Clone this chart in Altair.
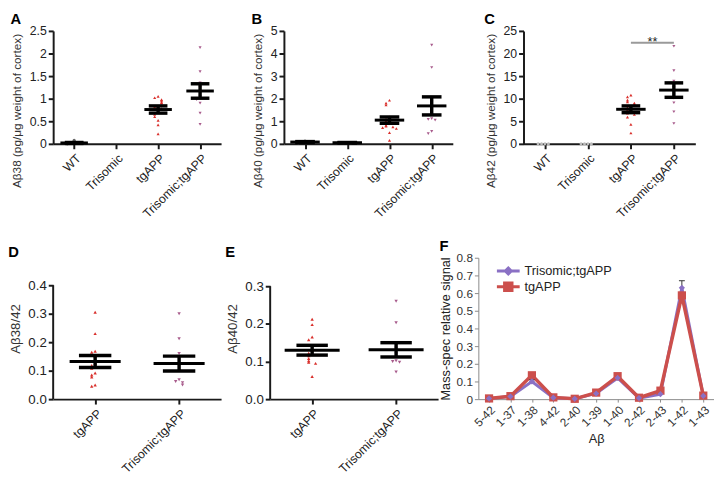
import altair as alt
import pandas as pd

FONT = "Liberation Sans"
RED = "#d9302c"
MAUVE = "#a85c8c"
GRAY = "#666666"
F_PURPLE = "#8a70c4"
F_RED = "#cc4f4c"

groups4 = ["WT", "Trisomic", "tgAPP", "Trisomic;tgAPP"]
groups2 = ["tgAPP", "Trisomic;tgAPP"]

# Panel A: Abeta38 (pg/ug)
a_wt = [0.08, 0.03, 0.02, 0.01, 0.0]
a_tri = []
a_tg = [1.05, 1.02, 0.98, 0.95, 0.92, 0.90, 0.85, 0.82, 0.78, 0.70, 0.65, 0.60, 0.52, 0.42, 0.22]
a_tritg = [2.13, 1.60, 1.35, 1.25, 1.05, 0.98, 0.90, 0.68, 0.43]
a_mean = [0.02, None, 0.76, 1.17]
a_sem = [0.01, None, 0.08, 0.16]
a_ticks = [0, 0.5, 1, 1.5, 2, 2.5]

# Panel B: Abeta40
b_wt = [0.12, 0.08, 0.06, 0.05]
b_tri = [0.06, 0.05, 0.04]
b_tg = [1.93, 1.80, 1.72, 1.20, 1.10, 1.02, 0.95, 0.82, 0.78, 0.75, 0.72, 0.68, 0.50, 0.15]
b_tritg = [4.37, 3.38, 1.85, 1.12, 1.08, 1.05, 0.55, 0.45]
b_mean = [0.08, 0.05, 1.05, 1.68]
b_sem = [0.02, 0.01, 0.14, 0.40]
b_ticks = [0, 1, 2, 3, 4, 5]

# Panel C: Abeta42
c_wt = [0.0, 0.0, 0.0, 0.0]
c_tri = [0.0, 0.0, 0.0, 0.0]
c_tg = [10.8, 10.4, 9.7, 9.3, 9.0, 8.8, 8.5, 8.0, 7.6, 7.2, 6.8, 6.5, 5.9, 4.3, 2.4]
c_tritg = [21.6, 16.2, 13.9, 12.5, 10.1, 9.1, 7.1, 4.5]
c_mean = [None, None, 7.65, 11.9]
c_sem = [None, None, 0.75, 1.6]
c_ticks = [0, 5, 10, 15, 20, 25]
c_sig = [(2, 3, 22.4, "**")]

# Panel D: Abeta38/42
d_tg = [0.305, 0.230, 0.168, 0.165, 0.150, 0.125, 0.118, 0.108, 0.092, 0.085, 0.078, 0.050, 0.045]
d_tritg = [0.300, 0.212, 0.160, 0.120, 0.068, 0.062, 0.058, 0.050]
d_mean = [0.132, 0.125]
d_sem = [0.021, 0.026]
d_ticks = [0.0, 0.1, 0.2, 0.3, 0.4]

# Panel E: Abeta40/42
e_tg = [0.212, 0.198, 0.165, 0.158, 0.130, 0.122, 0.115, 0.108, 0.102, 0.098, 0.095, 0.060]
e_tritg = [0.260, 0.203, 0.135, 0.120, 0.102, 0.100, 0.098, 0.072]
e_mean = [0.130, 0.131]
e_sem = [0.013, 0.019]
e_ticks = [0.0, 0.1, 0.2, 0.3]

# Panel F: mass spec
f_species = ["5-42", "1-37", "1-38", "4-42", "2-40", "1-39", "1-40", "2-42", "2-43", "1-42", "1-43"]
f_series = ["Trisomic;tgAPP", "tgAPP"]
f_tritg = [0.004, 0.015, 0.100, 0.008, 0.002, 0.032, 0.120, 0.006, 0.028, 0.630, 0.018]
f_tg = [0.004, 0.017, 0.135, 0.010, 0.002, 0.037, 0.130, 0.008, 0.048, 0.587, 0.020]
f_tritg_sem = [0.002, 0.003, 0.010, 0.002, 0.001, 0.004, 0.008, 0.002, 0.006, 0.040, 0.003]
f_ticks = [0, 0.1, 0.2, 0.3, 0.4, 0.5, 0.6, 0.7, 0.8]


def jitter(vals, thr, unit):
    pattern = [0, -1, 1, -2, 2, -3, 3]
    offs, placed = [], []
    for v in vals:
        n = sum(1 for p in placed if abs(p - v) < thr)
        offs.append(pattern[n % len(pattern)] * unit)
        placed.append(v)
    return offs


def panel_title(letter):
    return alt.Title(letter, anchor="start", frame="bounds", fontSize=15,
                     fontWeight="bold", font=FONT, color="black", offset=-2)


def scatter_panel(letter, cats, pts, means, sems, ytitle, ticks, fmt, dom_top,
                  width, height, colors, shapes, label_fs, xlabel_fs, title_fs, title_y,
                  mean_w, cap_w, pt_size, sig=None):
    n = len(cats)
    step = width / n
    rows = []
    for i, (c, vals) in enumerate(zip(cats, pts)):
        offs = jitter(vals, ticks[-1] * 0.03, 3.5 / step)
        for v, o in zip(vals, offs):
            rows.append({"grp": c, "val": v, "pos": i + o})
    pdf = pd.DataFrame(rows)
    stats = pd.DataFrame([
        {"grp": c, "idx": i, "mean": m, "sem": s}
        for i, (c, m, s) in enumerate(zip(cats, means, sems)) if m is not None
    ])
    manual = dom_top > ticks[-1]
    xscale = alt.Scale(domain=[-0.5, n - 0.5], nice=False, zero=False)
    yscale = alt.Scale(domain=[0, dom_top], nice=False, zero=True)
    label_expr = "[" + ",".join("'%s'" % c for c in cats) + "][datum.value]"
    xaxis = alt.Axis(values=list(range(n)), labelExpr=label_expr, labelAngle=-45,
                     title=None, grid=False, domainColor="#1a1a1a", domainWidth=2,
                     tickColor="#1a1a1a", tickWidth=2, tickSize=5, labelOverlap=False,
                     labelFontSize=xlabel_fs, labelColor="#222", labelPadding=3)
    yargs = dict(values=ticks, format=fmt, title=ytitle, grid=False, domain=not manual,
                 domainColor="#1a1a1a", domainWidth=2, tickColor="#1a1a1a",
                 tickWidth=2, tickSize=5, labelFontSize=label_fs, labelColor="#222",
                 titleFontSize=title_fs, titleFontWeight="normal", titleColor="#333",
                 titlePadding=6, labelOverlap=False)
    if title_y is not None:
        yargs["titleY"] = title_y
    yaxis = alt.Axis(**yargs)

    X = lambda f: alt.X(f, scale=xscale, axis=xaxis)
    Y = lambda f: alt.Y(f, scale=yscale, axis=yaxis)

    layers = []
    if manual:
        axdf = pd.DataFrame({"y0": [0.0], "y1": [ticks[-1]]})
        layers.append(alt.Chart(axdf).mark_rule(color="#1a1a1a", strokeWidth=2).encode(
            x=alt.value(0), y=Y("y0:Q"), y2="y1:Q"))
    layers.append(alt.Chart(pdf).mark_point(filled=True, size=pt_size, opacity=1).encode(
        x=X("pos:Q"), y=Y("val:Q"),
        color=alt.Color("grp:N", scale=alt.Scale(domain=cats, range=colors), legend=None),
        shape=alt.Shape("grp:N", scale=alt.Scale(domain=cats, range=shapes), legend=None)))
    st = alt.Chart(stats).transform_calculate(
        lo="datum.mean - datum.sem", hi="datum.mean + datum.sem")
    layers.append(st.mark_rule(color="black", strokeWidth=3.5).encode(
        x=X("idx:Q"), y=Y("lo:Q"), y2="hi:Q"))
    layers.append(st.mark_tick(orient="horizontal", size=mean_w, thickness=3,
                               color="black", opacity=1).encode(x=X("idx:Q"), y=Y("mean:Q")))
    layers.append(st.mark_tick(orient="horizontal", size=cap_w, thickness=3.5,
                               color="black", opacity=1).encode(x=X("idx:Q"), y=Y("hi:Q")))
    layers.append(st.mark_tick(orient="horizontal", size=cap_w, thickness=3.5,
                               color="black", opacity=1).encode(x=X("idx:Q"), y=Y("lo:Q")))
    if sig:
        sdf = pd.DataFrame([{"x1": a, "x2": b, "y": y, "label": t} for a, b, y, t in sig])
        layers.append(alt.Chart(sdf).mark_rule(color="#9a9a9a", strokeWidth=2).encode(
            x=X("x1:Q"), x2="x2:Q", y=Y("y:Q")))
        layers.append(alt.Chart(sdf).transform_calculate(xm="(datum.x1 + datum.x2) / 2")
                      .mark_text(fontSize=13, dy=3, baseline="alphabetic", color="#222")
                      .encode(x=X("xm:Q"), y=Y("y:Q"), text="label:N"))
    return alt.layer(*layers).properties(width=width, height=height,
                                         title=panel_title(letter))


top_colors = [GRAY, GRAY, RED, MAUVE]
top_shapes = ["circle", "circle", "triangle-up", "triangle-down"]
H_TOP = 115

pA = scatter_panel("A", groups4, [a_wt, a_tri, a_tg, a_tritg], a_mean, a_sem,
                   "Aβ38 (pg/μg weight of cortex)", a_ticks, "~g", 2.5,
                   171, H_TOP, top_colors, top_shapes, 12.5, 12.5, 12, 81, 28, 19, 10)
pB = scatter_panel("B", groups4, [b_wt, b_tri, b_tg, b_tritg], b_mean, b_sem,
                   "Aβ40 (pg/μg weight of cortex)", b_ticks, "~g", 5,
                   172, H_TOP, top_colors, top_shapes, 12.5, 12.5, 12, 81, 30, 20, 10)
pC = scatter_panel("C", groups4, [c_wt, c_tri, c_tg, c_tritg], c_mean, c_sem,
                   "Aβ42 (pg/μg weight of cortex)", c_ticks, "~g", 25,
                   175, H_TOP, ["#bbbbbb", "#bbbbbb", RED, MAUVE], top_shapes, 12.5, 12.5, 12,
                   81, 30, 19, 10, sig=c_sig)

H_BOT = 144
bot_colors = [RED, MAUVE]
bot_shapes = ["triangle-up", "triangle-down"]
pD = scatter_panel("D", groups2, [d_tg, d_tritg], d_mean, d_sem, "Aβ38/42",
                   d_ticks, ".1f", 0.4 * H_BOT / 116, 171, H_BOT, bot_colors, bot_shapes,
                   13.5, 12.5, 13.5, None, 52, 33, 12)
pE = scatter_panel("E", groups2, [e_tg, e_tritg], e_mean, e_sem, "Aβ40/42",
                   e_ticks, ".1f", 0.3 * H_BOT / 115, 171, H_BOT, bot_colors, bot_shapes,
                   13.5, 12.5, 13.5, None, 56, 32, 12)

# ---- Panel F ----
frows = []
for sname, vals, sems in [("Trisomic;tgAPP", f_tritg, f_tritg_sem), ("tgAPP", f_tg, [0] * len(f_tg))]:
    for sp, v, s in zip(f_species, vals, sems):
        frows.append({"species": sp, "series": sname, "value": v, "sem": s})
fdf = pd.DataFrame(frows)

fx_axis = alt.Axis(labelAngle=-45, title="Aβ", titleFontSize=13, titleFontWeight="normal",
                   titleColor="#222", labelFontSize=12, labelColor="#333",
                   domainColor="#8a8a8a", domainWidth=1, tickColor="#8a8a8a", tickSize=3,
                   grid=False, titlePadding=4, labelOverlap=False)
fy_axis = alt.Axis(values=f_ticks, format="~g", title="Mass-spec relative signal",
                   titleFontSize=13, titleFontWeight="normal", titleColor="#222",
                   labelFontSize=12, labelColor="#333", domainColor="#8a8a8a",
                   domainWidth=1, tickColor="#8a8a8a", tickSize=4, grid=False,
                   titlePadding=4, labelOverlap=False)
fxs = alt.Scale(type="point", padding=0.5)
fys = alt.Scale(domain=[0, 0.8], nice=False)
FX = alt.X("species:N", sort=f_species, scale=fxs, axis=fx_axis)
FY = lambda f: alt.Y(f, scale=fys, axis=fy_axis)

fbase = alt.Chart(fdf)
tri_f = "datum.series == 'Trisomic;tgAPP'"
tg_f = "datum.series == 'tgAPP'"
f_line_tri = fbase.transform_filter(tri_f).mark_line(color=F_PURPLE, strokeWidth=3).encode(
    x=FX, y=FY("value:Q"))
f_line_tg = fbase.transform_filter(tg_f).mark_line(color=F_RED, strokeWidth=3.5).encode(
    x=FX, y=FY("value:Q"))
f_pts_tg = fbase.transform_filter(tg_f).mark_point(
    shape="square", filled=True, size=70, color=F_RED, opacity=1).encode(x=FX, y=FY("value:Q"))
f_pts_tri = fbase.transform_filter(tri_f).mark_point(
    shape="diamond", filled=True, size=40, color=F_PURPLE, opacity=1).encode(x=FX, y=FY("value:Q"))
f_err = fbase.transform_filter(tri_f).transform_calculate(
    hi="datum.value + datum.sem").mark_rule(color="#333", strokeWidth=1).encode(
    x=FX, y=FY("value:Q"), y2="hi:Q")
f_cap = fbase.transform_filter(tri_f).transform_calculate(
    hi="datum.value + datum.sem").mark_tick(orient="horizontal", size=6, thickness=1,
                                            color="#333", opacity=1).encode(x=FX, y=FY("hi:Q"))

# legend symbols: a line with a marker; the symbol box is 8px, the line overflows it
diamond_path = "M-2.9,0L2.9,0M0,-0.75L0.75,0L0,0.75L-0.75,0Z"
square_path = ("M-2.9,0L2.9,0M-0.95,-0.95L0.95,-0.95L0.95,0.95L-0.95,0.95Z"
               "M-0.95,-0.32L0.95,-0.32M-0.95,0.32L0.95,0.32")
leg = alt.Legend(title=None, orient="none", legendX=24, legendY=7, labelFontSize=13,
                 labelFont=FONT, labelColor="#222", symbolSize=64, symbolStrokeWidth=3,
                 rowPadding=-5, padding=0, labelOffset=10, symbolOpacity=1)
f_leg = fbase.transform_filter("datum.value < 0").mark_point(
    filled=False, opacity=1, strokeWidth=3).encode(
    x=FX, y=FY("value:Q"),
    color=alt.Color("series:N", scale=alt.Scale(domain=f_series, range=[F_PURPLE, F_RED]), legend=leg),
    shape=alt.Shape("series:N", scale=alt.Scale(domain=f_series, range=[diamond_path, square_path]),
                    legend=leg))

pF = alt.layer(f_line_tri, f_line_tg, f_err, f_cap, f_pts_tg, f_pts_tri, f_leg).properties(
    width=240, height=H_BOT, title=panel_title("F"))


def indep(c):
    return c.resolve_scale(color="independent", shape="independent").resolve_legend(
        color="independent", shape="independent")


top = indep(alt.hconcat(pA, indep(alt.hconcat(pB, pC, spacing=72, bounds="flush")),
                        spacing=64, bounds="flush"))
bottom = indep(alt.hconcat(pD, indep(alt.hconcat(pE, pF, spacing=41, bounds="flush")),
                           spacing=50, bounds="flush"))

chart = indep(alt.vconcat(top, bottom, spacing=231, bounds="flush")).properties(
    padding={"left": 0, "top": 0, "right": 0, "bottom": 0}
).configure_view(stroke=None).configure_axis(
    labelFont=FONT, titleFont=FONT
).configure_text(font=FONT)

chart.save("out.html", embed_options={"renderer": "svg", "actions": False})
